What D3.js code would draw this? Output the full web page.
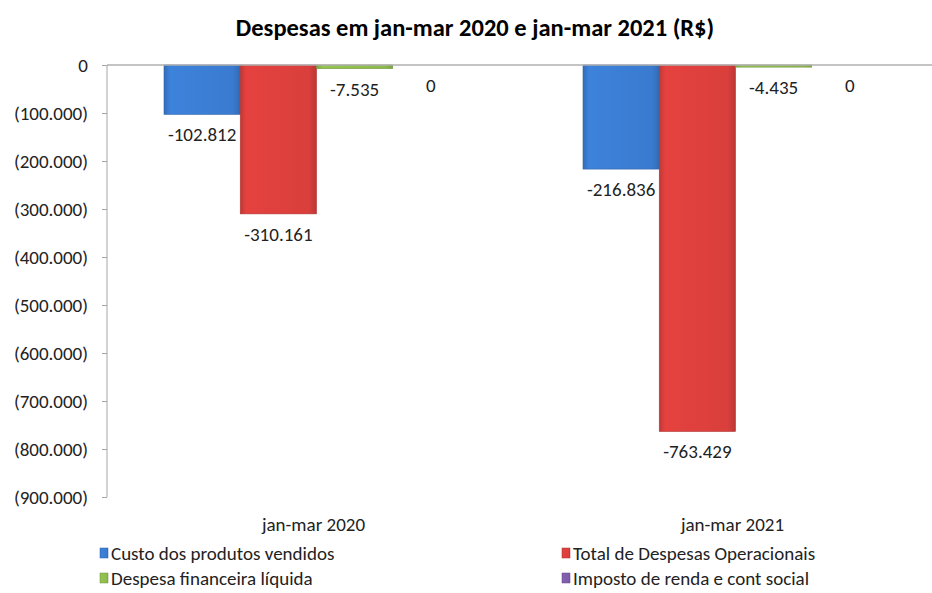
<!DOCTYPE html>
<html><head><meta charset="utf-8">
<script src="https://cdn.jsdelivr.net/npm/d3@7"></script>
<style>
body{margin:0;background:#fff;}
svg{display:block;font-family:"Carlito","Lato",sans-serif;}
</style></head>
<body><svg id="c" width="932" height="593"></svg>
<script>
const categories = ["jan-mar 2020", "jan-mar 2021"];
const seriesNames = ["Custo dos produtos vendidos", "Total de Despesas Operacionais", "Despesa financeira líquida", "Imposto de renda e cont social"];
const custo = [-102812, -216836];
const despOper = [-310161, -763429];
const despFin = [-7535, -4435];
const imposto = [0, 0];
const seriesValues = [custo, despOper, despFin, imposto];
const yTicks = [0, -100000, -200000, -300000, -400000, -500000, -600000, -700000, -800000, -900000];
const colors = ["#3a7bd0", "#d93f3c", "#8dbb4c", "#7f5ba8"];

const svg = d3.select("#c");
const defs = svg.append("defs");
colors.forEach((c, i) => {
  const g = defs.append("linearGradient").attr("id", "g" + i).attr("x1", 0).attr("x2", 1).attr("y1", 0).attr("y2", 0);
  const cc = d3.color(c);
  g.append("stop").attr("offset", "0%").attr("stop-color", cc.darker(0.35));
  g.append("stop").attr("offset", "8%").attr("stop-color", cc.brighter(0.15));
  g.append("stop").attr("offset", "90%").attr("stop-color", cc);
  g.append("stop").attr("offset", "100%").attr("stop-color", cc.darker(0.4));
});

const x0 = d3.scaleBand().domain(categories).range([107, 945]).paddingInner(0).paddingOuter(0);
const x1 = d3.scaleBand().domain(d3.range(4)).range([57, x0.bandwidth() - 57]);
const y = d3.scaleLinear().domain([-900000, 0]).range([497, 65]);

// title
svg.append("text").attr("x", 475).attr("y", 36).attr("text-anchor", "middle")
  .attr("font-weight", "bold").attr("font-size", 24.5).attr("fill", "#000")
  .text("Despesas em jan-mar 2020 e jan-mar 2021 (R$)");

// y axis
const fmt = v => v === 0 ? "0" : "(" + d3.format(",")(-v).replace(/,/g, ".") + ")";
const yAxis = d3.axisLeft(y).tickValues(yTicks).tickFormat(fmt).tickSize(5).tickPadding(14);
const ga = svg.append("g").attr("transform", "translate(107,0)").call(yAxis);
ga.select(".domain").attr("stroke", "#a6a6a6").attr("d", "M0,65V497");
ga.selectAll(".tick line").attr("stroke", "#a6a6a6");
ga.selectAll(".tick text").attr("font-size", 19).attr("fill", "#222").attr("font-family", "Carlito, Lato, sans-serif");

// bars
categories.forEach((cat, ci) => {
  const g = svg.append("g").attr("transform", `translate(${x0(cat)},0)`);
  seriesValues.forEach((vals, si) => {
    const v = vals[ci];
    g.append("rect")
      .attr("x", x1(si)).attr("width", x1.bandwidth())
      .attr("y", y(0)).attr("height", Math.max(0, y(v) - y(0)))
      .attr("fill", `url(#g${si})`).attr("stroke", d3.color(colors[si]).darker(0.6)).attr("stroke-width", 0.6);
  });
});

// zero line
svg.append("line").attr("x1", 107).attr("x2", 932).attr("y1", y(0)).attr("y2", y(0))
  .attr("stroke", "#b0b0b0").attr("stroke-width", 1.5);

// data labels
categories.forEach((cat, ci) => {
  seriesValues.forEach((vals, si) => {
    const v = vals[ci];
    const cx = x0(cat) + x1(si) + x1.bandwidth() / 2;
    svg.append("text").attr("x", cx).attr("y", y(v) + 27)
      .attr("text-anchor", "middle").attr("font-size", 19).attr("fill", "#222")
      .text(v === 0 ? "0" : "-" + d3.format(",.0f")(-v).replace(/,/g, "."));
  });
});

// category labels
categories.forEach(cat => {
  svg.append("text").attr("x", x0(cat) + x0.bandwidth() / 2 - 3).attr("y", 531)
    .attr("text-anchor", "middle").attr("font-size", 19).attr("fill", "#222").text(cat);
});

// legend
const legPos = [[100, 553], [562, 553], [100, 578], [562, 578]];
seriesNames.forEach((n, i) => {
  const [lx, ly] = legPos[i];
  svg.append("rect").attr("x", lx).attr("y", ly - 5).attr("width", 8).attr("height", 10)
    .attr("fill", `url(#g${i})`).attr("stroke", d3.color(colors[i]).darker(0.6)).attr("stroke-width", 0.5);
  svg.append("text").attr("x", lx + 11).attr("y", ly + 7).attr("font-size", 19).attr("fill", "#222").text(n);
});
</script></body></html>
